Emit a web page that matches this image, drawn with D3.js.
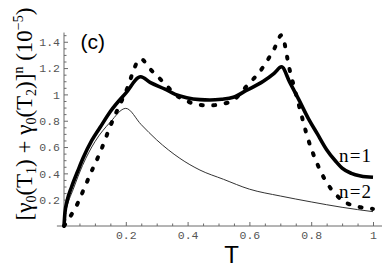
<!DOCTYPE html>
<html>
<head>
<meta charset="utf-8">
<script src="https://cdn.jsdelivr.net/npm/d3@7"></script>
<style>
  html, body { margin: 0; padding: 0; background: #fff; }
  svg { display: block; }
</style>
</head>
<body>
<svg id="chart" width="382" height="274"></svg>
<script>
// ---- data ----
const xTicks = [0.2, 0.4, 0.6, 0.8, 1];
const xTickLabels = ["0.2", "0.4", "0.6", "0.8", "1"];
const yTicks = [0.2, 0.4, 0.6, 0.8, 1, 1.2, 1.4];
const yTickLabels = ["0.2", "0.4", "0.6", "0.8", "1", "1.2", "1.4"];

const tN1 = [0, 0.003, 0.01, 0.025, 0.045, 0.0625, 0.09, 0.117, 0.15, 0.2, 0.248,
             0.28, 0.327, 0.36, 0.397, 0.44, 0.472, 0.51, 0.548, 0.59, 0.645, 0.68, 0.704,
             0.73, 0.76, 0.79, 0.82, 0.85, 0.88, 0.9, 0.93, 0.96, 1.0];
const vN1 = [0, 0.10, 0.19, 0.30, 0.42, 0.52, 0.65, 0.75, 0.87, 1.01, 1.134,
             1.09, 1.04, 1.00, 0.975, 0.96, 0.957, 0.963, 0.978, 1.03, 1.10, 1.16, 1.21,
             1.095, 0.96, 0.82, 0.70, 0.58, 0.49, 0.44, 0.40, 0.38, 0.37];

const tN2 = [0, 0.003, 0.01, 0.025, 0.045, 0.0625, 0.09, 0.117, 0.15, 0.2, 0.248,
             0.28, 0.327, 0.36, 0.397, 0.44, 0.472, 0.51, 0.548, 0.59, 0.645, 0.68, 0.704,
             0.73, 0.76, 0.79, 0.82, 0.85, 0.88, 0.9, 0.93, 0.96, 1.0];
const vN2 = [0, 0.01, 0.036, 0.09, 0.176, 0.27, 0.42, 0.56, 0.76, 1.02, 1.27,
             1.19, 1.08, 1.00, 0.95, 0.92, 0.916, 0.927, 0.956, 1.06, 1.21, 1.345, 1.45,
             1.19, 0.92, 0.66, 0.47, 0.33, 0.24, 0.194, 0.16, 0.142, 0.13];

const tThin = [0, 0.003, 0.01, 0.03, 0.06, 0.1, 0.15, 0.2, 0.25, 0.3, 0.375, 0.44,
               0.516, 0.6, 0.7, 0.8, 0.9, 1.0];
const vThin = [0, 0.08, 0.15, 0.28, 0.46, 0.64, 0.79, 0.894, 0.77, 0.654, 0.514, 0.425,
               0.355, 0.28, 0.228, 0.183, 0.142, 0.109];

// ---- layout ----
const svg = d3.select("#chart");
const x = d3.scaleLinear().domain([0, 1]).range([64, 373]);
const y = d3.scaleLinear().domain([0, 1]).range([226, 94.4]);

const axisColor = "#6a6a6a";
const tickFont = "'Liberation Mono', 'DejaVu Sans Mono', monospace";

// axis lines
svg.append("line")
  .attr("x1", x(-0.023)).attr("x2", x(1.03))
  .attr("y1", y(0)).attr("y2", y(0))
  .attr("stroke", axisColor).attr("stroke-width", 1);
svg.append("line")
  .attr("x1", x(0)).attr("x2", x(0))
  .attr("y1", y(-0.01)).attr("y2", y(1.47))
  .attr("stroke", axisColor).attr("stroke-width", 1);

// minor ticks
const xMinor = d3.range(0.05, 1.03, 0.05).filter(v => Math.abs(v * 5 - Math.round(v * 5)) > 1e-6);
const yMinor = d3.range(0.05, 1.47, 0.05).filter(v => Math.abs(v * 5 - Math.round(v * 5)) > 1e-6);

const gxMinor = svg.append("g").attr("transform", `translate(0,${y(0)})`)
  .call(d3.axisBottom(x).tickValues(xMinor).tickSize(-2.5).tickFormat(""));
const gyMinor = svg.append("g").attr("transform", `translate(${x(0)},0)`)
  .call(d3.axisLeft(y).tickValues(yMinor).tickSize(-2.5).tickFormat(""));

const gx = svg.append("g").attr("transform", `translate(0,${y(0)})`)
  .call(d3.axisBottom(x).tickValues(xTicks).tickSize(-4).tickPadding(5)
    .tickFormat((d, i) => xTickLabels[i]));
const gy = svg.append("g").attr("transform", `translate(${x(0)},0)`)
  .call(d3.axisLeft(y).tickValues(yTicks).tickSize(-4).tickPadding(4)
    .tickFormat((d, i) => yTickLabels[i]));

[gxMinor, gyMinor, gx, gy].forEach(g => {
  g.select(".domain").remove();
  g.selectAll(".tick line").attr("stroke", axisColor).attr("stroke-width", 1);
  g.selectAll(".tick text").attr("fill", "#555").attr("font-family", tickFont)
    .attr("font-size", 11.5);
});

// ---- curves ----
const line = d3.line().x(d => x(d[0])).y(d => y(d[1])).curve(d3.curveMonotoneX);

svg.append("path")
  .attr("d", line(d3.zip(tThin, vThin)))
  .attr("fill", "none").attr("stroke", "#333").attr("stroke-width", 1);

svg.append("path")
  .attr("d", line(d3.zip(tN1, vN1)))
  .attr("fill", "none").attr("stroke", "#000").attr("stroke-width", 3.6)
  .attr("stroke-linejoin", "miter");

svg.append("path")
  .attr("d", line(d3.zip(tN2, vN2)))
  .attr("fill", "none").attr("stroke", "#000").attr("stroke-width", 4)
  .attr("stroke-linecap", "round").attr("stroke-dasharray", "2 10.5");

// ---- texts ----
const serif = "'Liberation Serif', 'Times New Roman', serif";
const sans = "'Liberation Sans', Arial, sans-serif";

svg.append("text").attr("x", 80.5).attr("y", 49)
  .attr("font-family", sans).attr("font-size", 21).text("(c)");

svg.append("text").attr("x", 231.5).attr("y", 263.3).attr("text-anchor", "middle")
  .attr("font-family", sans).attr("font-size", 24).text("T");

svg.append("text").attr("x", 339).attr("y", 162)
  .attr("font-family", serif).attr("font-size", 19).attr("letter-spacing", 1.2).text("n=1");
svg.append("text").attr("x", 339).attr("y", 198)
  .attr("font-family", serif).attr("font-size", 19).attr("letter-spacing", 1.2).text("n=2");

// y label
const yl = svg.append("text")
  .attr("transform", "translate(31.5,114) rotate(-90)")
  .attr("text-anchor", "middle")
  .attr("font-family", serif).attr("font-size", 23);
const parts = [
  ["[γ", 0], ["0", 1], ["(T", 0], ["1", 1], [") + γ", 0], ["0", 1], ["(T", 0], ["2", 1],
  [")]", 0], ["n", -1], [" (10", 0], ["−5", -1], [")", 0]
];
let cur = 0;
parts.forEach(([t, k]) => {
  let target = k === 1 ? 4 : (k === -1 ? -9 : 0);
  const ts = yl.append("tspan").text(t).attr("dy", target - cur);
  if (k !== 0) ts.attr("font-size", 14);
  cur = target;
});
</script>
</body>
</html>
